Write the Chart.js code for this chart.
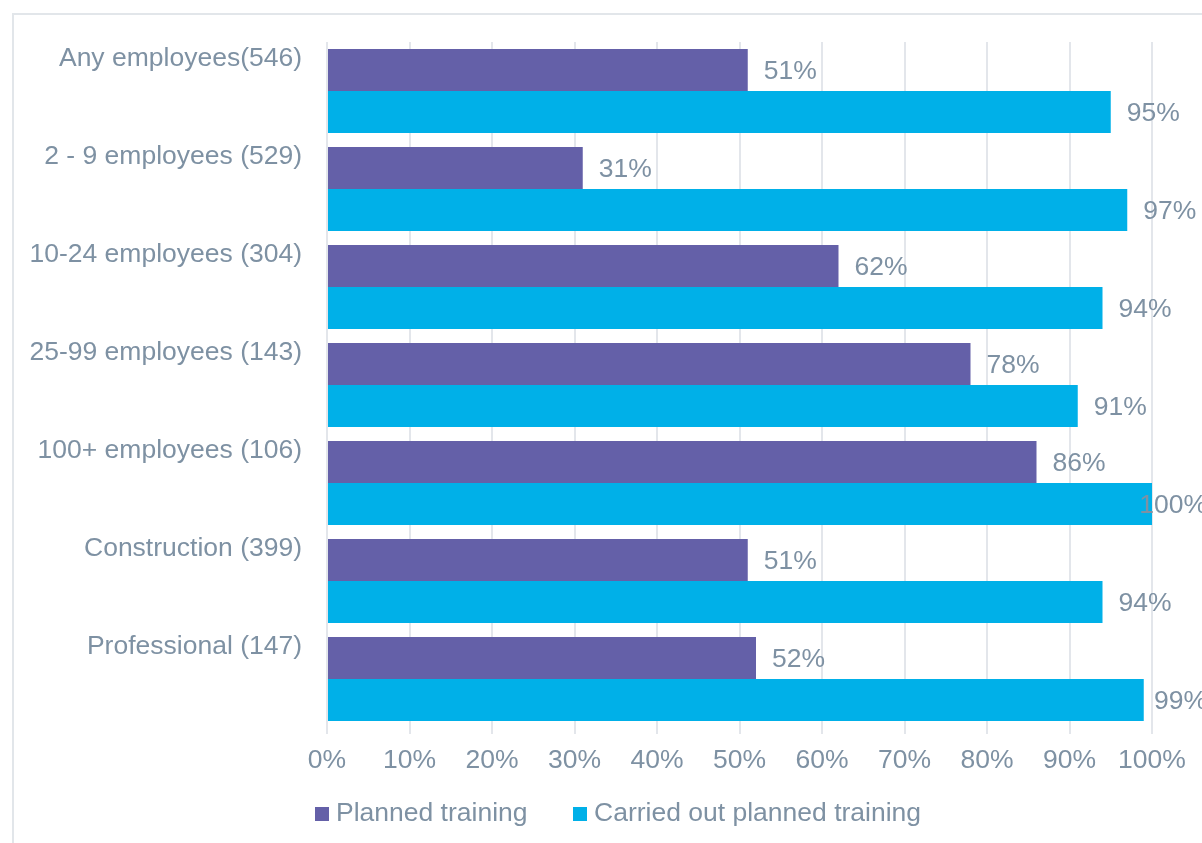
<!DOCTYPE html>
<html>
<head>
<meta charset="utf-8">
<script src="https://cdn.jsdelivr.net/npm/chart.js@4"></script>
<style>
  html, body { margin: 0; padding: 0; background: #fff; }
  #wrap { width: 1202px; height: 843px; position: relative; }
</style>
</head>
<body>
<div id="wrap"><canvas id="trainingChart"></canvas></div>
<script>
// training plans by business size / sector
const categories = [
  "Any employees(546)",
  "2 - 9 employees (529)",
  "10-24 employees (304)",
  "25-99 employees (143)",
  "100+ employees (106)",
  "Construction (399)",
  "Professional (147)"
];
const planned = [51, 31, 62, 78, 86, 51, 52];
const carriedOut = [95, 97, 94, 91, 100, 94, 99];
const seriesNames = ["Planned training", "Carried out planned training"];
const seriesColors = ["#6460a8", "#00b0e8"];

const textColor = "#7e91a3";
const fontFamily = "'Liberation Sans', Arial, sans-serif";
const fontSize = 26.5;

// outer frame of the chart
const framePlugin = {
  id: "frame",
  beforeDraw(chart) {
    const ctx = chart.ctx;
    ctx.save();
    ctx.strokeStyle = "#e2e6ea";
    ctx.lineWidth = 2;
    ctx.strokeRect(13, 14, 1400, 1000);
    ctx.restore();
  }
};

// value labels at the end of each bar
const valueLabels = {
  id: "valueLabels",
  afterDatasetsDraw(chart) {
    const ctx = chart.ctx;
    ctx.save();
    ctx.font = fontSize + "px " + fontFamily;
    ctx.fillStyle = textColor;
    ctx.textAlign = "left";
    ctx.textBaseline = "middle";
    chart.data.datasets.forEach((ds, i) => {
      chart.getDatasetMeta(i).data.forEach((bar, j) => {
        const txt = ds.data[j] + "%";
        const w = ctx.measureText(txt).width;
        const x = Math.min(bar.x + 16, 1207 - w);
        ctx.fillText(txt, x, bar.y + 2);
      });
    });
    ctx.restore();
  }
};

// legend row under the axis
const legendRow = {
  id: "legendRow",
  afterDraw(chart) {
    const ctx = chart.ctx;
    const xs = [315, 573];
    ctx.save();
    ctx.font = fontSize + "px " + fontFamily;
    ctx.textAlign = "left";
    ctx.textBaseline = "middle";
    seriesNames.forEach((name, i) => {
      ctx.fillStyle = seriesColors[i];
      ctx.fillRect(xs[i], 807, 14, 14);
      ctx.fillStyle = textColor;
      ctx.fillText(name, xs[i] + 21, 814);
    });
    ctx.restore();
  }
};

const ctx = document.getElementById("trainingChart").getContext("2d");
new Chart(ctx, {
  type: "bar",
  data: {
    labels: categories,
    datasets: [
      { label: seriesNames[0], data: planned, backgroundColor: seriesColors[0] },
      { label: seriesNames[1], data: carriedOut, backgroundColor: seriesColors[1] }
    ]
  },
  options: {
    indexAxis: "y",
    responsive: true,
    maintainAspectRatio: false,
    animation: false,
    categoryPercentage: 84 / 98,
    barPercentage: 1,
    layout: { padding: { top: 42, right: 50, bottom: 65, left: 0 } },
    plugins: {
      legend: { display: false },
      tooltip: { enabled: false }
    },
    scales: {
      x: {
        min: 0,
        max: 100,
        ticks: {
          stepSize: 10,
          color: textColor,
          font: { family: fontFamily, size: fontSize },
          padding: 11,
          callback: v => v + "%"
        },
        grid: { color: "#e3e6eb", lineWidth: 2, tickLength: 6 },
        border: { display: false },
        afterFit(scale) { scale.height = 50; }
      },
      y: {
        ticks: {
          color: textColor,
          font: { family: fontFamily, size: fontSize },
          padding: 25,
          labelOffset: -32
        },
        grid: { display: false, drawTicks: false },
        border: { display: false },
        afterFit(scale) { scale.width = 327; }
      }
    }
  },
  plugins: [framePlugin, valueLabels, legendRow]
});
</script>
</body>
</html>
